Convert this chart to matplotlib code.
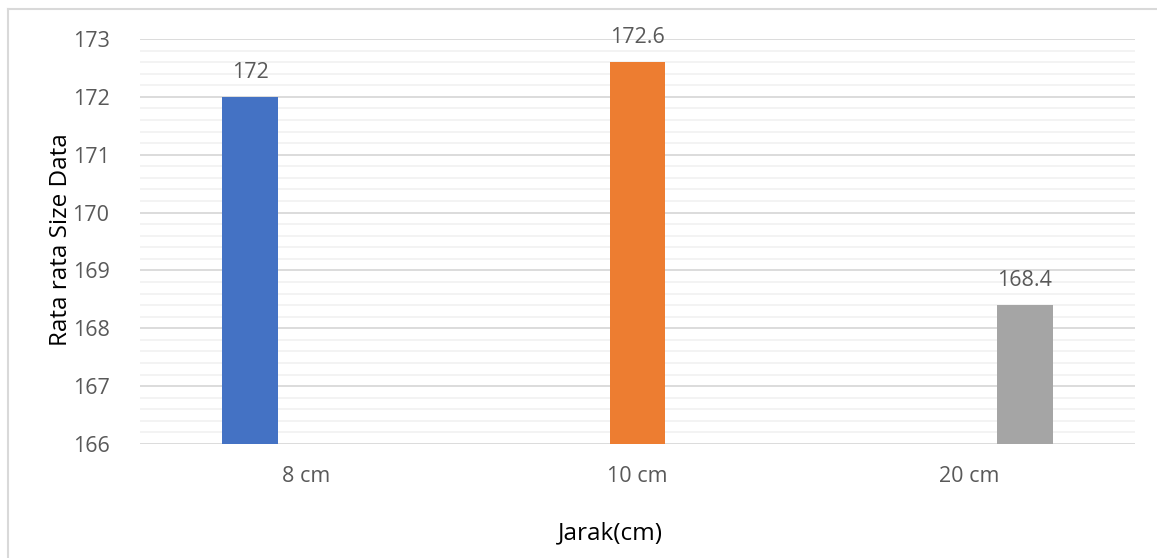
import matplotlib.pyplot as plt
from matplotlib.lines import Line2D
from matplotlib.ticker import MultipleLocator

# Average size data per distance
categories = ['8 cm', '10 cm', '20 cm']
series_values = [172, 172.6, 168.4]
series_colors = ['#4472C4', '#ED7D31', '#A5A5A5']
y_ticks = [166, 167, 168, 169, 170, 171, 172, 173]

text_color = '#595959'
plt.rcParams['font.family'] = ['Open Sans', 'DejaVu Sans']

fig = plt.figure(figsize=(11.57, 5.58), dpi=100)
ax = fig.add_axes([140 / 1157, 1 - 444 / 558, 995 / 1157, 405 / 558])

# clustered layout: each series sits in its own slot of the cluster
width = 0.168
offsets = [-width, 0, width]
for i, (val, col) in enumerate(zip(series_values, series_colors)):
    x = i + offsets[i]
    ax.bar(x, val - 166, width=width, bottom=166, color=col, zorder=3)
    ax.text(x, val + 0.42, f'{val:g}', ha='center', va='center',
            fontsize=15.5, color=text_color)

ax.set_xlim(-0.5, 2.5)
ax.set_ylim(166, 173)
ax.set_xticks(range(len(categories)))
ax.set_xticklabels(categories)
ax.set_yticks(y_ticks)
ax.yaxis.set_minor_locator(MultipleLocator(0.2))

ax.grid(axis='y', which='major', color='#D9D9D9', linewidth=1.3, zorder=0)
ax.grid(axis='y', which='minor', color='#F2F2F2', linewidth=1.3, zorder=0)
ax.set_axisbelow(True)

for s in ax.spines.values():
    s.set_visible(False)
ax.tick_params(axis='both', which='both', length=0, labelsize=15.5,
               labelcolor=text_color)
ax.tick_params(axis='x', pad=16)
ax.tick_params(axis='y', pad=22)

fig.text(61 / 1157, 1 - 240 / 558, 'Rata rata Size Data', rotation=90,
         ha='center', va='center', fontsize=17.5, color='black')
fig.text(610 / 1157, 1 - 533 / 558, 'Jarak(cm)', ha='center', va='center',
         fontsize=17.5, color='black')

# chart area border (top and left edges)
fig.add_artist(Line2D([7.5 / 1157, 1], [1 - 9 / 558, 1 - 9 / 558],
                      transform=fig.transFigure, color='#D9D9D9', linewidth=1.5))
fig.add_artist(Line2D([7.5 / 1157, 7.5 / 1157], [0, 1 - 9 / 558],
                      transform=fig.transFigure, color='#D9D9D9', linewidth=1.5))

fig.savefig('out.png', dpi=100)
